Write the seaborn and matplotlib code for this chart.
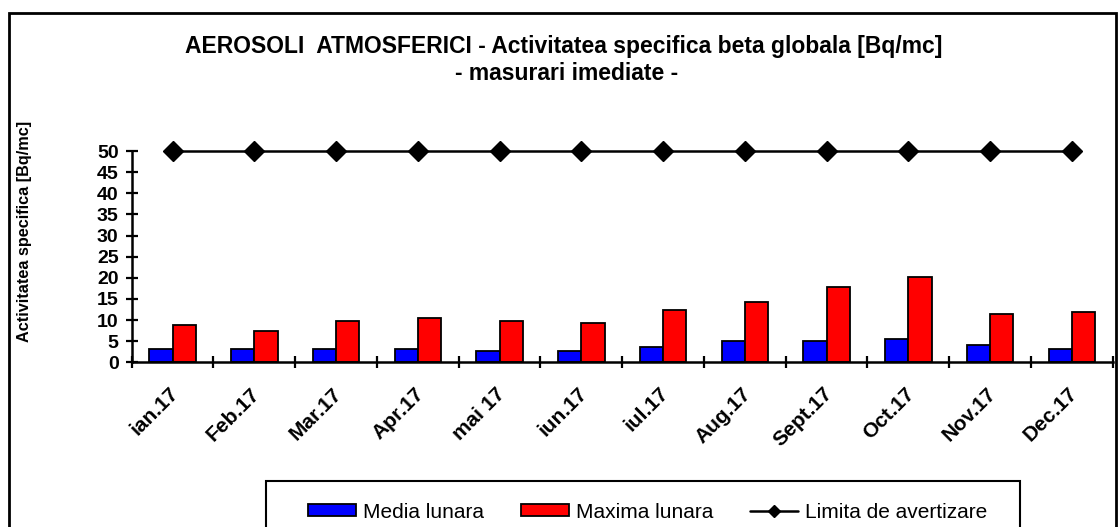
import numpy as np
import pandas as pd
import matplotlib
matplotlib.use("Agg")
import matplotlib.pyplot as plt
import matplotlib.transforms as mtransforms
from matplotlib.patches import Patch, Rectangle
from matplotlib.lines import Line2D
import seaborn as sns

months = ["ian.17", "Feb.17", "Mar.17", "Apr.17", "mai 17", "iun.17",
          "iul.17", "Aug.17", "Sept.17", "Oct.17", "Nov.17", "Dec.17"]
media_lunara = [3.1, 3.1, 3.1, 3.1, 2.7, 2.7, 3.6, 5.0, 5.0, 5.4, 4.0, 3.1]
maxima_lunara = [8.8, 7.5, 9.8, 10.5, 9.8, 9.3, 12.4, 14.2, 17.7, 20.3, 11.5, 11.9]
limita = [50] * 12
series_names = ["Media lunara", "Maxima lunara", "Limita de avertizare"]
yticks = list(range(0, 55, 5))

sns.set_theme(style="white")
plt.rcParams["font.family"] = ["Liberation Sans", "DejaVu Sans"]
plt.rcParams["text.color"] = "black"
plt.rcParams["xtick.color"] = "black"
plt.rcParams["ytick.color"] = "black"
plt.rcParams["axes.labelcolor"] = "black"

df = pd.DataFrame({
    "month": months * 2,
    "value": media_lunara + maxima_lunara,
    "serie": [series_names[0]] * 12 + [series_names[1]] * 12,
})

fig = plt.figure(figsize=(11.2, 5.27), dpi=100)
ax = fig.add_axes([131.7 / 1120, 1 - 362.3 / 527, (1112.7 - 131.7) / 1120, (362.3 - 151) / 527])

sns.barplot(data=df, x="month", y="value", hue="serie", order=months,
            hue_order=series_names[:2], palette=["#0000FF", "#FF0000"],
            width=0.57, edgecolor="black", linewidth=1.3, saturation=1,
            legend=False, ax=ax)
ax.plot(np.arange(12), limita, color="black", lw=1.8, marker="D",
        markersize=10.5, clip_on=False, zorder=5)

ax.set_xlim(-0.5, 11.5)
ax.set_ylim(0, 50)
ax.set_yticks(yticks)
ax.set_yticklabels([str(t) for t in yticks], fontsize=14, fontweight="bold")
ax.set_xticks(np.arange(12))
ax.set_xticklabels(months, rotation=45, ha="right", rotation_mode="anchor",
                   fontsize=15, fontweight="bold")
ax.set_xticks(np.arange(-0.5, 12, 1), minor=True)
ax.tick_params(axis="x", which="both", bottom=True)
ax.tick_params(axis="y", which="both", left=True)
ax.tick_params(axis="x", which="major", length=0, pad=12)
ax.tick_params(axis="x", which="minor", length=9, width=1.6, direction="inout")
ax.tick_params(axis="y", length=9, width=1.6, direction="inout", pad=5)
ax.set_xlabel("")
ax.set_ylabel("")
for s in ["top", "right"]:
    ax.spines[s].set_visible(False)
for s in ["left", "bottom"]:
    ax.spines[s].set_linewidth(1.8)
    ax.spines[s].set_color("black")

fig.text(25 / 1120, 1 - 231 / 527, "Activitatea specifica [Bq/mc]", rotation=90,
         ha="center", va="center", fontsize=11.7, fontweight="bold", color="black")
fig.text(564 / 1120, 1 - 46 / 527,
         "AEROSOLI  ATMOSFERICI - Activitatea specifica beta globala [Bq/mc]",
         ha="center", va="center", fontsize=16.5, fontweight="bold", color="black")
fig.text(567 / 1120, 1 - 73 / 527, "- masurari imediate -",
         ha="center", va="center", fontsize=16.5, fontweight="bold", color="black")

# outer border
fig.patches.append(Rectangle((9 / 1120, -0.05), (1116 - 9) / 1120, 1.05 - 13 / 527,
                             transform=fig.transFigure, fill=False,
                             edgecolor="black", linewidth=2))
# legend box
fig.patches.append(Rectangle((266 / 1120, -0.05), (1020 - 266) / 1120, 0.05 + 1 - 481 / 527,
                             transform=fig.transFigure, fill=False,
                             edgecolor="black", linewidth=1.5))

handles = [
    Patch(facecolor="#0000FF", edgecolor="black", linewidth=1.3),
    Patch(facecolor="#FF0000", edgecolor="black", linewidth=1.3),
    Line2D([], [], color="black", lw=1.8, marker="D", markersize=6.5),
]
legend_x = [308, 521, 750]
for h, name, lx in zip(handles, series_names, legend_x):
    leg = fig.legend([h], [name], loc="center left", frameon=False,
                     bbox_to_anchor=(lx / 1120, 1 - 512 / 527),
                     borderpad=0, borderaxespad=0,
                     handlelength=2.3, handleheight=0.48,
                     handletextpad=0.35, prop={"weight": "normal", "size": 15})
    for t in leg.get_texts():
        t.set_color("black")

# nudge the rotated month labels slightly left/down (after all tick_params)
offset = mtransforms.ScaledTranslation(-4 / 100, -5 / 100, fig.dpi_scale_trans)
for tick in ax.xaxis.get_major_ticks():
    tick.label1.set_transform(tick.label1.get_transform() + offset)

fig.savefig("out.png", dpi=100)
